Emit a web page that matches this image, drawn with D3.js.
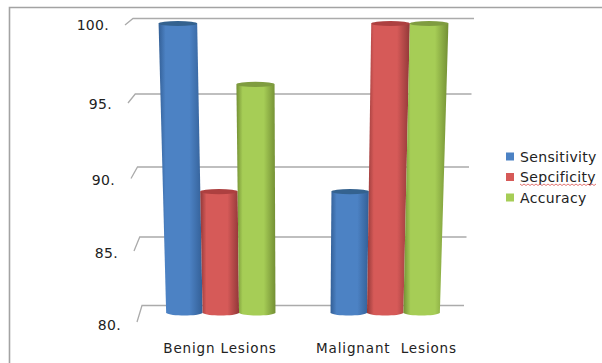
<!DOCTYPE html>
<html>
<head>
<meta charset="utf-8">
<script src="https://d3js.org/d3.v7.min.js"></script>
<style>
html,body{margin:0;padding:0;background:#fff}
svg{display:block}
text{font-family:"DejaVu Sans",Verdana,sans-serif;fill:#222;white-space:pre}
</style>
</head>
<body>
<svg id="chart" width="602" height="363"></svg>
<script>
const categories = ["Benign Lesions", "Malignant  Lesions"];
const seriesNames = ["Sensitivity", "Sepcificity", "Accuracy"];
const sensitivity = [100, 88.7];
const specificity = [88.7, 100];
const accuracy = [96, 100];
const tickValues = [80, 85, 90, 95, 100];
const seriesValues = [sensitivity, specificity, accuracy];

const palette = [
  {edge: "#335f96", mid: "#4c82c4", cap: "#34628f"},
  {edge: "#923838", mid: "#d65a58", cap: "#ad4040"},
  {edge: "#738f34", mid: "#a6cd56", cap: "#7f9c40"}
];

const svg = d3.select("#chart");
const defs = svg.append("defs");

// The plot is a receding 3D wall: value spacing shrinks towards the floor.
const wallY = d3.scaleLinear().domain(tickValues).range([305.5, 237, 167, 94, 18.5]);
const wallLeft = d3.scaleLinear().domain([80, 100]).range([142, 133]);
const wallRight = d3.scaleLinear().domain([80, 100]).range([464, 474]);
const barDrop = d3.scaleLinear().domain([80, 100]).range([7.5, 5]);
const tickDx = d3.scaleLinear().domain([80, 100]).range([-5, -8]);
const tickDy = d3.scaleLinear().domain([80, 100]).range([16.5, 6.5]);
const labelDrop = d3.scaleLinear().domain([80, 100]).range([7.5, 5]);

const groupX = d3.scaleBand().domain(d3.range(categories.length)).range([0, 1])
  .paddingInner(0.335).paddingOuter(0.147);
const seriesX = d3.scaleBand().domain(d3.range(seriesNames.length)).range([0, groupX.bandwidth()]);

const project = (u, v) => wallLeft(v) + u * (wallRight(v) - wallLeft(v));
const barY = v => wallY(v) + barDrop(v);

// Page frame
svg.append("path")
  .attr("d", d3.line()([[9.5, 363], [9.5, 7.5], [602, 7.5]]))
  .attr("fill", "none").attr("stroke", "#a3a3a3").attr("stroke-width", 1.6);

// Gridlines with their angled ticks
svg.append("g").selectAll("path").data(tickValues).join("path")
  .attr("d", v => d3.line()([
    [wallLeft(v) + tickDx(v), wallY(v) + tickDy(v)],
    [wallLeft(v), wallY(v)],
    [wallRight(v), wallY(v)]
  ]))
  .attr("fill", "none").attr("stroke", "#ababab").attr("stroke-width", 1.3);

svg.append("g").selectAll("text").data(tickValues).join("text")
  .attr("x", v => wallLeft(v) + tickDx(v) - 16)
  .attr("y", v => wallY(v) + tickDy(v) + labelDrop(v))
  .attr("text-anchor", "end").attr("font-size", 14).attr("letter-spacing", 0.3)
  .text(v => v + ".");

// Cylinder shading
palette.forEach((c, i) => {
  const g = defs.append("linearGradient").attr("id", "cyl" + i);
  [[0, c.edge], [0.16, c.mid], [0.7, c.mid], [1, c.edge]].forEach(([o, col]) =>
    g.append("stop").attr("offset", o).attr("stop-color", col));
});

const ry = 2.6;
const bars = [];
categories.forEach((cat, ci) => seriesNames.forEach((s, si) => {
  const u0 = groupX(ci) + seriesX(si);
  bars.push({si, value: seriesValues[si][ci], u0, u1: u0 + seriesX.bandwidth()});
}));

const barG = svg.append("g").selectAll("g").data(bars).join("g");
barG.append("path")
  .attr("fill", d => `url(#cyl${d.si})`)
  .attr("d", d => {
    const p = d3.path();
    const xt0 = project(d.u0, d.value), xt1 = project(d.u1, d.value);
    const xb0 = project(d.u0, 80), xb1 = project(d.u1, 80);
    const yt = barY(d.value), yb = barY(80);
    p.moveTo(xt0, yt);
    p.lineTo(xb0, yb);
    p.bezierCurveTo(xb0 + 4, yb + ry * 1.3, xb1 - 4, yb + ry * 1.3, xb1, yb);
    p.lineTo(xt1, yt);
    p.closePath();
    return p.toString();
  });
barG.append("ellipse")
  .attr("cx", d => (project(d.u0, d.value) + project(d.u1, d.value)) / 2)
  .attr("cy", d => barY(d.value))
  .attr("rx", d => (project(d.u1, d.value) - project(d.u0, d.value)) / 2)
  .attr("ry", ry)
  .attr("fill", d => palette[d.si].cap);

// Category labels
svg.append("g").selectAll("text").data(categories).join("text")
  .attr("x", (d, i) => [220, 386.5][i])
  .attr("y", 352.5)
  .attr("text-anchor", "middle").attr("font-size", 13.5).attr("letter-spacing", 0.85)
  .text(d => d);

// Legend
const legendY = d3.scalePoint().domain(seriesNames).range([156.5, 197.5]);
const legend = svg.append("g").selectAll("g").data(seriesNames).join("g")
  .attr("transform", d => `translate(506,${legendY(d)})`);
legend.append("rect").attr("x", 0).attr("y", -4).attr("width", 8).attr("height", 8)
  .attr("fill", (d, i) => palette[i].mid);
legend.append("text").attr("x", 14).attr("y", 5).attr("font-size", 14).attr("letter-spacing", 0.35).text(d => d);

// Spell-check squiggle beneath the misspelt legend entry
const squiggle = d3.range(520, 597, 2).map((x, i) => [x, legendY("Sepcificity") + 7.5 + (i % 2 ? 1 : -0.5)]);
svg.append("path").attr("d", d3.line()(squiggle))
  .attr("fill", "none").attr("stroke", "#d9534f").attr("stroke-width", 0.8);
</script>
</body>
</html>
